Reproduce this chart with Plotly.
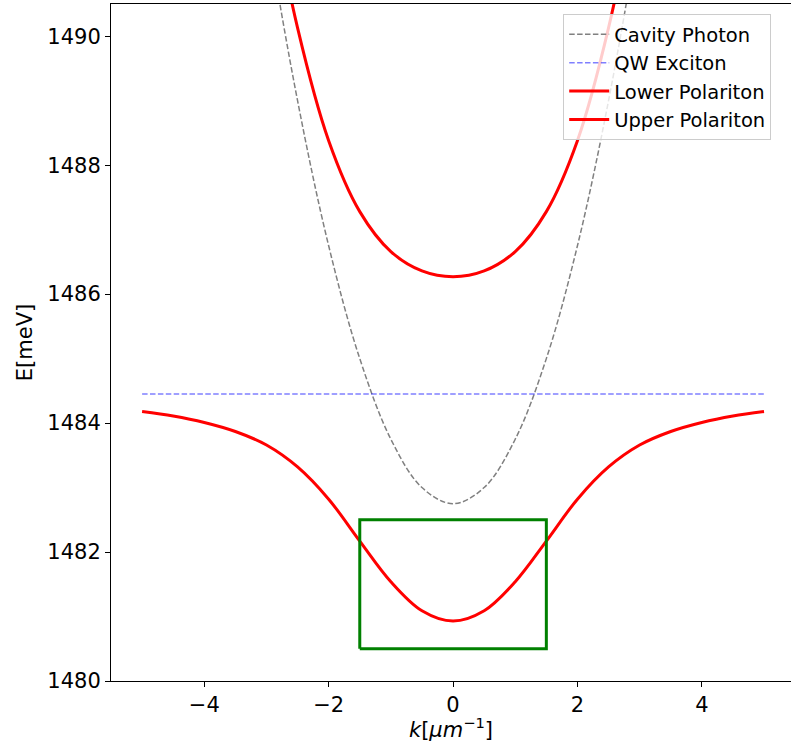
import plotly.graph_objects as go

# wavevector samples (µm^-1)
k_vals = [-5, -4.5, -4, -3.5, -3, -2.5, -2, -1.5, -1, -0.5, 0,
          0.5, 1, 1.5, 2, 2.5, 3, 3.5, 4, 4.5, 5]

# Energies (meV)
photon_half = [1482.75, 1483.0, 1483.75, 1485.0, 1486.75, 1489.0,
               1491.75, 1495.0, 1498.75, 1503.0, 1507.75]
lower_half = [1480.93, 1481.09, 1481.54, 1482.17, 1482.82, 1483.32,
              1483.66, 1483.87, 1484.01, 1484.11, 1484.18]
upper_half = [1486.27, 1486.36, 1486.66, 1487.28, 1488.38, 1490.13,
              1492.54, 1495.58, 1499.19, 1503.34, 1508.02]
exciton_E = [1484.45] * len(k_vals)

cavity_photon = photon_half[:0:-1] + photon_half
lower_pol = lower_half[:0:-1] + lower_half
upper_pol = upper_half[:0:-1] + upper_half

# highlighted region
box_k = [-1.5, 1.5, 1.5, -1.5, -1.5]
box_E = [1480.5, 1480.5, 1482.5, 1482.5, 1480.5]

x_ticks = [-4, -2, 0, 2, 4]
y_ticks = [1480, 1482, 1484, 1486, 1488, 1490]

FONT = "DejaVu Sans"

fig = go.Figure()
fig.add_trace(go.Scatter(x=k_vals, y=cavity_photon, mode="lines", name="Cavity Photon",
                         line=dict(color="gray", width=1.5, dash="5.5px,2.4px", shape="spline")))
fig.add_trace(go.Scatter(x=k_vals, y=exciton_E, mode="lines", name="QW Exciton",
                         line=dict(color="rgba(0,0,255,0.5)", width=1.5, dash="5.5px,2.4px")))
fig.add_trace(go.Scatter(x=k_vals, y=lower_pol, mode="lines", name="Lower Polariton",
                         line=dict(color="red", width=3, shape="spline")))
fig.add_trace(go.Scatter(x=k_vals, y=upper_pol, mode="lines", name="Upper Polariton",
                         line=dict(color="red", width=3, shape="spline")))
fig.add_trace(go.Scatter(x=box_k, y=box_E, mode="lines", showlegend=False,
                         line=dict(color="green", width=3)))

fig.update_layout(
    width=791, height=742,
    margin=dict(l=111, r=0, t=4, b=61),
    paper_bgcolor="white", plot_bgcolor="white",
    font=dict(family=FONT, size=21, color="black"),
    legend=dict(x=0.665, y=0.985, xanchor="left", yanchor="top",
                bgcolor="rgba(255,255,255,0.8)", bordercolor="#cccccc", borderwidth=1,
                font=dict(family=FONT, size=19.5, color="black"),
                tracegroupgap=0, itemwidth=40),
)
fig.update_xaxes(range=[-5.5, 5.434], tickvals=x_ticks, showgrid=False, zeroline=False,
                 showline=True, linecolor="black", linewidth=1, mirror=True,
                 ticks="outside", ticklen=5, tickwidth=1, tickcolor="black",
                 title=dict(text="<i>k</i>[<i>μm</i><sup>−1</sup>]", standoff=6,
                            font=dict(family=FONT, size=21)))
fig.update_yaxes(range=[1480, 1490.5], tickvals=y_ticks, showgrid=False, zeroline=False,
                 showline=True, linecolor="black", linewidth=1, mirror=False,
                 ticks="outside", ticklen=5, tickwidth=1, tickcolor="black",
                 title=dict(text="E[meV]", standoff=8, font=dict(family=FONT, size=21)))

fig.write_html("out.html")
